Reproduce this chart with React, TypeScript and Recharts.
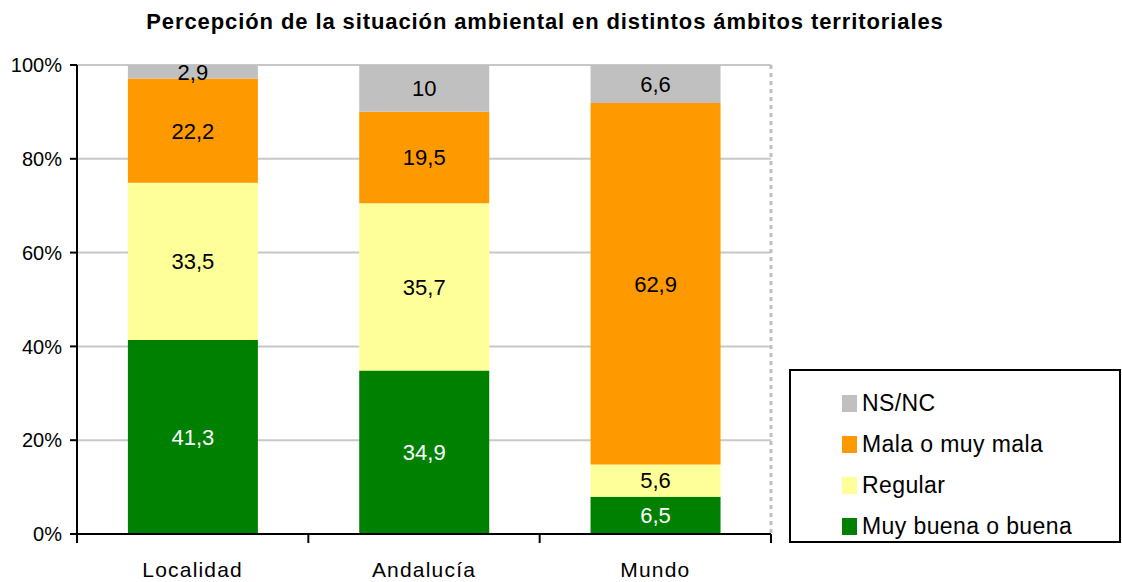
import { BarChart, Bar, XAxis, YAxis, CartesianGrid, LabelList } from "recharts";

const CATEGORIES = ["Localidad", "Andalucía", "Mundo"];
const MUY_BUENA = [41.3, 34.9, 6.5];
const REGULAR = [33.5, 35.7, 5.6];
const MALA = [22.2, 19.5, 62.9];
const NSNC = [2.9, 10, 6.6];
const Y_TICKS = [0, 0.2, 0.4, 0.6, 0.8, 1];

const SERIES = [
  { key: "buena", name: "Muy buena o buena", values: MUY_BUENA, color: "#008000", text: "#ffffff" },
  { key: "regular", name: "Regular", values: REGULAR, color: "#ffff99", text: "#000000" },
  { key: "mala", name: "Mala o muy mala", values: MALA, color: "#ff9900", text: "#000000" },
  { key: "nsnc", name: "NS/NC", values: NSNC, color: "#c0c0c0", text: "#000000" },
];

const data = CATEGORIES.map((cat, i) => {
  const row: any = { cat };
  SERIES.forEach((s) => (row[s.key] = s.values[i]));
  return row;
});

const FONT = "'Liberation Sans', Arial, sans-serif";

const fmt = (v: any) => String(v).replace(".", ",");

const CatTick = (props: any) => {
  const { x, y, payload, index } = props;
  const half = payload?.offset ?? 115.5;
  return (
    <g>
      <line x1={x - half} x2={x - half} y1={y} y2={y + 9} stroke="#000" strokeWidth={2} />
      {index === CATEGORIES.length - 1 && (
        <line x1={x + half} x2={x + half} y1={y} y2={y + 9} stroke="#000" strokeWidth={2} />
      )}
      <text x={x} y={y + 43} textAnchor="middle" fontSize={21} fontFamily={FONT} fill="#000" letterSpacing={1.2}>
        {payload.value}
      </text>
    </g>
  );
};

const LegendBox = () => (
  <div
    style={{
      position: "absolute",
      left: 789,
      top: 369,
      boxSizing: "border-box",
      width: 332,
      height: 174,
      border: "2px solid #000",
      background: "#fff",
      paddingTop: 12,
      paddingLeft: 51,
      fontFamily: FONT,
      fontSize: 23,
      letterSpacing: 0.4,
    }}
  >
    {[...SERIES].reverse().map((s) => (
      <div key={s.key} style={{ display: "flex", alignItems: "center", height: 41 }}>
        <span style={{ width: 15, height: 17, background: s.color, marginRight: 5, display: "inline-block" }} />
        <span>{s.name}</span>
      </div>
    ))}
  </div>
);

export default function App() {
  return (
    <div style={{ position: "absolute", left: 0, top: 0, width: 1122, height: 582, background: "#fff" }}>
      <div
        style={{
          position: "absolute",
          top: 9,
          left: 0,
          width: 1090,
          textAlign: "center",
          fontFamily: FONT,
          fontWeight: "bold",
          fontSize: 22,
          letterSpacing: 0.9,
          zIndex: 1,
        }}
      >
        Percepción de la situación ambiental en distintos ámbitos territoriales
      </div>
      <BarChart
        width={1122}
        height={582}
        data={data}
        stackOffset="expand"
        barCategoryGap="22%"
        margin={{ top: 65, right: 351, left: 0, bottom: 0 }}
      >
        <CartesianGrid vertical={false} stroke="#c8c8c8" strokeWidth={2} />
        <CartesianGrid
          horizontal={false}
          stroke="#c0c0c0"
          strokeWidth={3}
          strokeDasharray="4 4"
          verticalCoordinatesGenerator={({ offset }: any) => [offset.left + offset.width]}
        />
        <XAxis
          dataKey="cat"
          height={48}
          axisLine={{ stroke: "#000", strokeWidth: 2 }}
          tickLine={false}
          tickSize={0}
          tickMargin={0}
          tick={<CatTick />}
          interval={0}
        />
        <YAxis
          width={77}
          domain={[0, 1]}
          ticks={Y_TICKS}
          tickFormatter={(v: number) => `${Math.round(v * 100)}%`}
          axisLine={{ stroke: "#000", strokeWidth: 2 }}
          tickLine={{ stroke: "#000", strokeWidth: 2 }}
          tickSize={7}
          tickMargin={8}
          tick={{ fill: "#000", fontSize: 20, fontFamily: FONT }}
        />
        {SERIES.map((s) => (
          <Bar key={s.key} dataKey={s.key} name={s.name} stackId="a" fill={s.color} isAnimationActive={false}>
            <LabelList
              dataKey={s.key}
              position="center"
              formatter={fmt}
              fill={s.text}
              style={{ fontSize: 22, fontFamily: FONT }}
            />
          </Bar>
        ))}
      </BarChart>
      <LegendBox />
    </div>
  );
}
